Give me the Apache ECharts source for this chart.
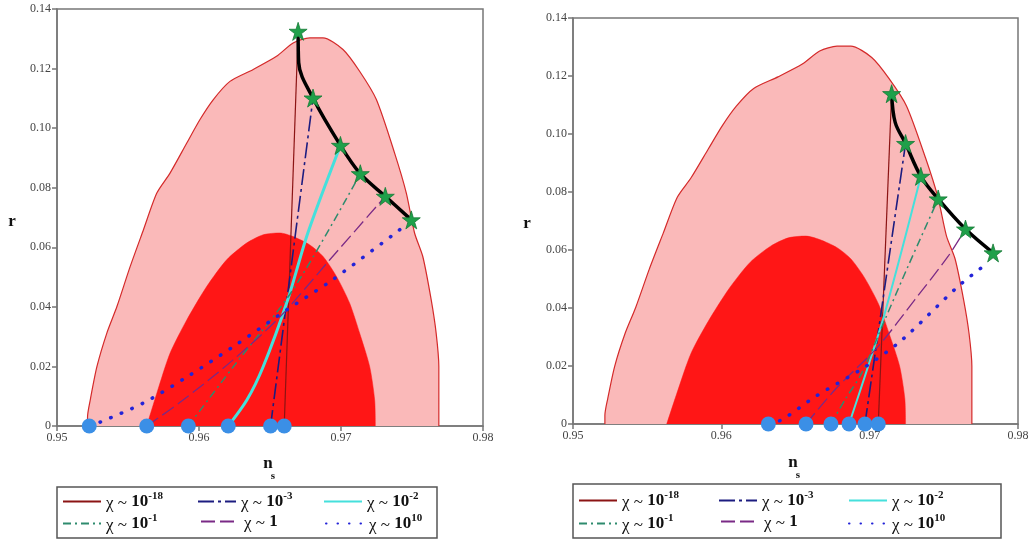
<!DOCTYPE html>
<html><head><meta charset="utf-8">
<script src="https://cdn.jsdelivr.net/npm/echarts@6/dist/echarts.min.js"></script>
<style>html,body{margin:0;padding:0;background:#fff}#c{width:1034px;height:540px}</style>
</head><body><div id="c"></div>
<script>
// ---------- data ----------
const xRange = [0.95, 0.98], xStep = 0.01;
const yRange = [0, 0.14], yStep = 0.02;
const seriesNames = ['χ ~ 10^-18', 'χ ~ 10^-3', 'χ ~ 10^-2', 'χ ~ 10^-1', 'χ ~ 1', 'χ ~ 10^10'];

const outerContour = [[0.95215,0],[0.95215,0.003],[0.95234,0.0087],[0.95281,0.0199],[0.95351,0.0312],[0.95422,0.0401],
  [0.95515,0.0535],[0.95609,0.0659],[0.95703,0.0782],[0.95796,0.0849],[0.95914,0.095],[0.96007,0.1029],[0.96101,0.1096],
  [0.96218,0.1157],[0.96382,0.1197],[0.96546,0.1241],[0.96663,0.1286],[0.9678,0.1303],[0.96873,0.1303],[0.97014,0.1264],
  [0.97131,0.1191],[0.97249,0.1096],[0.97377,0.0917],[0.9746,0.0782],[0.97518,0.0648],[0.97576,0.0569],[0.97635,0.0424],
  [0.9767,0.0312],[0.97689,0.0199],[0.97689,0.005],[0.97689,0]];
const innerContour = [[0.95632,0],[0.95703,0.011],[0.95796,0.0244],[0.95914,0.0356],[0.96054,0.0468],[0.96195,0.0558],
  [0.96335,0.0614],[0.96452,0.0642],[0.96569,0.0648],[0.96663,0.0636],[0.9678,0.0608],[0.96874,0.0569],[0.96968,0.0502],
  [0.97061,0.0412],[0.97131,0.0312],[0.97202,0.0199],[0.97237,0.0087],[0.97242,0]];

// left panel
const leftChiM18 = [[0.966,0],[0.96698,0.1325]];
const leftChiM3  = [[0.96504,0],[0.96803,0.1101]];
const leftChiM2  = [[0.96206,0],[0.96337,0.0087],[0.96451,0.0198],[0.96625,0.0424],[0.96767,0.0649],[0.96996,0.0942]];
const leftChiM1  = [[0.95925,0],[0.9624,0.0198],[0.96661,0.0457],[0.97136,0.0847]];
const leftChi0   = [[0.95632,0],[0.95888,0.0087],[0.9624,0.0222],[0.96569,0.0366],[0.96921,0.0558],[0.97312,0.0771]];
const leftChi10  = [[0.95227,0],[0.95304,0.0013],[0.95607,0.0077],[0.95916,0.0165],[0.9624,0.0266],[0.96618,0.039],[0.96941,0.0491],[0.9745,0.0672]];
const leftEnvelope = [[0.96698,0.1325],[0.96702,0.122],[0.96803,0.1101],[0.96996,0.0942],[0.97136,0.0847],[0.97312,0.0771],[0.97495,0.0692]];
const leftStart = [0.95227,0.95632,0.95925,0.96206,0.96504,0.966];
const leftStars = [[0.96698,0.1325],[0.96803,0.1101],[0.96996,0.0942],[0.97136,0.0847],[0.97312,0.0771],[0.97495,0.0692]];

// right panel
const rightChiM18 = [[0.97058,0],[0.97148,0.1139]];
const rightChiM3  = [[0.96968,0],[0.97242,0.0967]];
const rightChiM2  = [[0.96861,0],[0.96989,0.0198],[0.97103,0.0384],[0.97345,0.0854]];
const rightChiM1  = [[0.96739,0],[0.96834,0.0084],[0.96948,0.0177],[0.97103,0.036],[0.97258,0.0543],[0.97462,0.0776]];
const rightChi0   = [[0.96571,0],[0.96766,0.0118],[0.97056,0.0267],[0.97305,0.0429],[0.97527,0.0577],[0.97646,0.0672]];
const rightChi10  = [[0.96317,0],[0.96409,0.0015],[0.96632,0.0094],[0.96969,0.0197],[0.97218,0.029],[0.97593,0.0473],[0.97797,0.0556]];
const rightEnvelope = [[0.97148,0.1139],[0.97172,0.104],[0.97242,0.0967],[0.97345,0.0854],[0.97462,0.0776],[0.97646,0.0672],[0.97832,0.059]];
const rightStart = [0.96317,0.96571,0.96739,0.96861,0.96968,0.97058];
const rightStars = [[0.97148,0.1139],[0.97242,0.0967],[0.97345,0.0854],[0.97462,0.0776],[0.97646,0.0672],[0.97832,0.059]];

// ---------- styling ----------
const FONT = 'Liberation Serif';
const lineStyles = [
  {color:'#8b1414', width:1.2, type:'solid'},
  {color:'#1c1c80', width:1.6, type:[16,4,3,4]},
  {color:'#45e0dc', width:3, type:'solid'},
  {color:'#2e8b6e', width:1.5, type:[8,4,2,4]},
  {color:'#7a2a86', width:1.3, type:[14,5]},
  {color:'#2323d8', width:3.5, type:[0.5,11], cap:'round'}
];
const starPath = 'path://M50,0 L61,35 L98,35 L68,57 L79,91 L50,70 L21,91 L32,57 L2,35 L39,35 Z';

function panelSeries(g, lines, envelope, starts, stars, cyanWidth){
  const s = [];
  s.push({type:'line', xAxisIndex:g, yAxisIndex:g, data:outerContour, symbol:'none', silent:true, z:1, smooth:0.25,
    lineStyle:{color:'#d42a2a', width:1.2}, areaStyle:{color:'#fab9b9', opacity:1}});
  s.push({type:'line', xAxisIndex:g, yAxisIndex:g, data:innerContour, symbol:'none', silent:true, z:2, smooth:0.25,
    lineStyle:{color:'#ff1616', width:0.5}, areaStyle:{color:'#ff1616', opacity:1}});
  lines.forEach((d,i)=>{
    const ls = Object.assign({}, lineStyles[i]);
    if (i===2) ls.width = cyanWidth;
    s.push({type:'line', name:seriesNames[i], xAxisIndex:g, yAxisIndex:g, data:d, symbol:'none', z:3,
      smooth: d.length>2 ? 0.3 : false, lineStyle:ls, itemStyle:{color:ls.color}});
  });
  s.push({type:'line', xAxisIndex:g, yAxisIndex:g, data:envelope, symbol:'none', z:4, smooth:0.35,
    lineStyle:{color:'#000', width:3.5}});
  s.push({type:'scatter', xAxisIndex:g, yAxisIndex:g, data:starts.map(x=>[x,0]), symbol:'circle', symbolSize:15, z:5,
    itemStyle:{color:'#3b8fe6', opacity:1}});
  s.push({type:'scatter', xAxisIndex:g, yAxisIndex:g, data:stars, symbol:starPath, symbolSize:18, z:6,
    itemStyle:{color:'#1fa04a', borderColor:'#167a36', borderWidth:0.8, opacity:1}});
  return s;
}

function xAxisCfg(g){
  return {type:'value', gridIndex:g, min:xRange[0], max:xRange[1], interval:xStep,
    axisLine:{show:true, onZero:false, lineStyle:{color:'#777', width:1.5}},
    axisTick:{show:true, length:5, lineStyle:{color:'#777', width:1.5}},
    splitLine:{show:false},
    axisLabel:{fontFamily:FONT, fontSize:12, color:'#444', margin:6, formatter:v=>v.toFixed(2)}};
}
function yAxisCfg(g){
  return {type:'value', gridIndex:g, min:yRange[0], max:yRange[1], interval:yStep,
    axisLine:{show:true, onZero:false, lineStyle:{color:'#777', width:1.5}},
    axisTick:{show:true, length:5, lineStyle:{color:'#777', width:1.5}},
    splitLine:{show:false},
    axisLabel:{fontFamily:FONT, fontSize:12, color:'#444', margin:6, formatter:v=>v===0?'0':v.toFixed(2)}};
}

const legendRich = {
  c:{fontFamily:FONT, fontSize:17, color:'#111', padding:[4,0,0,0]},
  b:{fontFamily:FONT, fontSize:17, fontWeight:'bold', color:'#111'},
  s:{fontFamily:FONT, fontSize:11, fontWeight:'bold', color:'#111', padding:[0,0,10,0]}
};
function legendFmt(n){
  const p = n.split('^');
  const q = p[0].split('~');
  const head = '{c|' + q[0] + '~ }{b|' + q[1].trim() + '}';
  return p.length>1 ? head + '{s|' + p[1] + '}' : head;
}
function makeLegends(pos, w){
  return pos.map((p,i)=>({data:[seriesNames[i]], left:p[0], top:p[1], padding:0, itemWidth:w, itemHeight:14, itemGap:4,
    formatter:legendFmt, textStyle:{rich:legendRich}, itemStyle:{opacity:0, borderWidth:0}, selectedMode:false}));
}

const leftLegendPos  = [[62,491],[197,491],[323,491],[62,513],[200,513],[325,513]];
const rightLegendPos = [[578,490],[718,490],[848,490],[578,513],[720,513],[848,513]];

const option = {
  animation:false,
  backgroundColor:'#fff',
  grid:[
    {left:57, right:551, top:9, bottom:114, show:true, borderColor:'#777', borderWidth:1.5, backgroundColor:'#fff'},
    {left:573, right:16, top:18, bottom:116, show:true, borderColor:'#777', borderWidth:1.5, backgroundColor:'#fff'}
  ],
  xAxis:[xAxisCfg(0), xAxisCfg(1)],
  yAxis:[yAxisCfg(0), yAxisCfg(1)],
  legend: makeLegends(leftLegendPos, 38).concat(makeLegends(rightLegendPos, 38)),
  graphic:[
    {type:'rect', shape:{x:57, y:487, width:380, height:51}, style:{fill:'#fff', stroke:'#555', lineWidth:1.5}, z:-1},
    {type:'rect', shape:{x:573, y:484, width:428, height:54}, style:{fill:'#fff', stroke:'#555', lineWidth:1.5}, z:-1},
    {type:'text', x:12, y:222, style:{text:'r', fontFamily:FONT, fontSize:17, fontWeight:'bold', fill:'#111', align:'center', verticalAlign:'middle'}},
    {type:'text', x:527, y:224, style:{text:'r', fontFamily:FONT, fontSize:17, fontWeight:'bold', fill:'#111', align:'center', verticalAlign:'middle'}},
    {type:'text', x:268, y:464, style:{text:'n', fontFamily:FONT, fontSize:17, fontWeight:'bold', fill:'#111', align:'center', verticalAlign:'middle'}},
    {type:'text', x:273, y:476, style:{text:'s', fontFamily:FONT, fontSize:11, fontWeight:'bold', fill:'#111', align:'center', verticalAlign:'middle'}},
    {type:'text', x:793, y:463, style:{text:'n', fontFamily:FONT, fontSize:17, fontWeight:'bold', fill:'#111', align:'center', verticalAlign:'middle'}},
    {type:'text', x:798, y:475, style:{text:'s', fontFamily:FONT, fontSize:11, fontWeight:'bold', fill:'#111', align:'center', verticalAlign:'middle'}}
  ],
  series: panelSeries(0, [leftChiM18,leftChiM3,leftChiM2,leftChiM1,leftChi0,leftChi10], leftEnvelope, leftStart, leftStars, 3)
    .concat(panelSeries(1, [rightChiM18,rightChiM3,rightChiM2,rightChiM1,rightChi0,rightChi10], rightEnvelope, rightStart, rightStars, 2))
};
const chart = echarts.init(document.getElementById('c'), null, {renderer:'canvas'});
chart.setOption(option);
</script></body></html>
